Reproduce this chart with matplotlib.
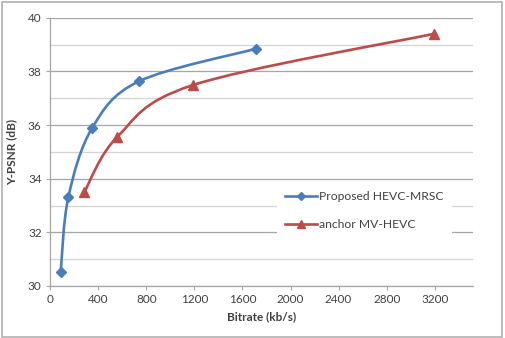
import numpy as np
import matplotlib
matplotlib.use("Agg")
import matplotlib.pyplot as plt
from matplotlib.path import Path
from matplotlib.patches import PathPatch, Rectangle
from matplotlib.lines import Line2D

plt.rcParams['font.family'] = ['Lato', 'DejaVu Sans']

# Data
proposed_rate = [89, 152, 352, 740, 1710]
proposed_psnr = [30.53, 33.30, 35.90, 37.63, 38.84]
anchor_rate = [285, 560, 1189, 3193]
anchor_psnr = [33.50, 35.56, 37.49, 39.40]
series_names = ["Proposed HEVC-MRSC", "anchor MV-HEVC"]
x_ticks = [0, 400, 800, 1200, 1600, 2000, 2400, 2800, 3200]
y_ticks = [30, 32, 34, 36, 38, 40]

blue = '#4a7ebb'
red = '#be4b48'
txt = '#404040'

W, H = 505, 338
fig = plt.figure(figsize=(W / 100, H / 100), dpi=100)
ax = fig.add_axes([50 / W, 52 / H, (472.7 - 50) / W, (286 - 17.7) / H])
ax.set_xlim(0, 3515)
ax.set_ylim(30, 40)

ax.set_xticks(x_ticks)
ax.set_yticks(y_ticks)
ax.set_yticks(np.arange(31, 40, 2), minor=True)
ax.grid(True, which='major', axis='y', color='#a6a6a6', lw=0.9)
ax.grid(True, which='minor', axis='y', color='#d4d4d4', lw=0.9)
ax.tick_params(axis='y', which='minor', length=0)
ax.tick_params(axis='both', which='major', length=3, color='#a6a6a6',
               labelsize=8.5, labelcolor=txt, pad=3)
ax.set_axisbelow(True)
for s in ['top', 'right']:
    ax.spines[s].set_visible(False)
for s in ['left', 'bottom']:
    ax.spines[s].set_color('#a6a6a6')
    ax.spines[s].set_linewidth(0.9)

ax.set_xlabel('Bitrate (kb/s)', fontsize=8.5, fontweight='bold', color=txt, labelpad=4)
ax.set_ylabel('Y-PSNR (dB)', fontsize=8.5, fontweight='bold', color=txt, labelpad=8)


def smooth_path(xs, ys):
    P = np.column_stack([xs, ys]).astype(float)
    n = len(P)
    verts = [P[0]]
    codes = [Path.MOVETO]
    for i in range(n - 1):
        p0 = P[i - 1] if i > 0 else P[i]
        p1 = P[i]
        p2 = P[i + 1]
        p3 = P[i + 2] if i + 2 < n else P[i + 1]
        c1 = p1 + (p2 - p0) / 6.0
        c2 = p2 - (p3 - p1) / 6.0
        verts += [c1, c2, p2]
        codes += [Path.CURVE4] * 3
    return Path(verts, codes)


for xs, ys, c, m, ms in [(proposed_rate, proposed_psnr, blue, 'D', 5.5),
                         (anchor_rate, anchor_psnr, red, '^', 7.5)]:
    ax.add_patch(PathPatch(smooth_path(xs, ys), facecolor='none', edgecolor=c,
                           lw=1.9, transform=ax.transData, zorder=3))
    ax.plot(xs, ys, ls='none', marker=m, ms=ms, color=c, zorder=4)

handles = [Line2D([], [], color=blue, lw=1.9, marker='D', ms=4),
           Line2D([], [], color=red, lw=1.9, marker='^', ms=6)]
leg = ax.legend(handles, series_names, loc='upper left',
                bbox_to_anchor=(277 / W, 1 - 183 / H), bbox_transform=fig.transFigure,
                frameon=True, facecolor='white', edgecolor='none', framealpha=1,
                fontsize=8.7, handlelength=2.6, handletextpad=0.15,
                labelspacing=1.4, borderpad=0.7, borderaxespad=0, fancybox=False)
for t in leg.get_texts():
    t.set_color(txt)

fig.add_artist(Rectangle((1.5 / W, 1.5 / H), (W - 4.5) / W, (H - 3.5) / H,
                         transform=fig.transFigure, fill=False,
                         edgecolor='#b0b0b0', lw=1.2))

fig.savefig('out.png', dpi=100)
